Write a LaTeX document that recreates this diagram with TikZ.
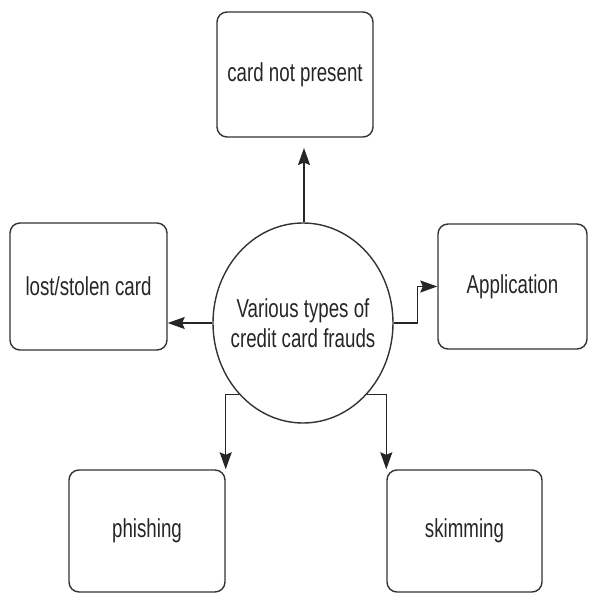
\documentclass[tikz,border=0pt]{standalone}
\usepackage{fontspec}
\setmainfont{Liberation Sans}
\usetikzlibrary{shapes.geometric,arrows.meta}
\newcommand{\sqz}[1]{\makebox[0pt][c]{\scalebox{0.72}[1]{#1}}}
\begin{document}
\begin{tikzpicture}[x=1pt,y=-1pt,
  line width=1.4pt,
  every node/.style={font=\fontsize{26}{29}\selectfont, text=black!85},
  box/.style={draw=black!80, rounded corners=10pt, inner sep=0pt, align=center},
  hub/.style={draw=black!80, ellipse, minimum width=180pt, minimum height=200pt, inner sep=0pt, align=center},
  conn/.style={draw=black!85, -{Stealth[length=17pt,width=12pt,inset=2.5pt]}}]
\useasboundingbox (0,0) rectangle (589,594);
\node[box, minimum width=156pt, minimum height=125pt] (top) at (295,74.5) {\sqz{card not present}};
\node[box, minimum width=157pt, minimum height=127pt] (lost) at (88.5,286.5) {\sqz{lost/stolen card}};
\node[box, minimum width=149pt, minimum height=125pt] (app) at (512.5,286.5) {\sqz{Application}};
\node[box, minimum width=156pt, minimum height=122pt] (phish) at (147,531) {\sqz{phishing}};
\node[box, minimum width=155pt, minimum height=122pt] (skim) at (464.5,531) {\sqz{skimming}};
\node[hub] (c) at (303,323) {\sqz{Various types of}\\[1pt]\sqz{credit card frauds}};
\coordinate (toptip) at (304,148);
\draw[conn] (c.north -| toptip) -- (toptip);
\draw[conn] (c.west) -- (c.west -| lost.east);
\draw[conn] (c.east) -- ++(24,0) |- (app.west);
\draw[conn] (c.228) -| (phish.north east);
\draw[conn] (c.312) -| (skim.north west);
\end{tikzpicture}
\end{document}
